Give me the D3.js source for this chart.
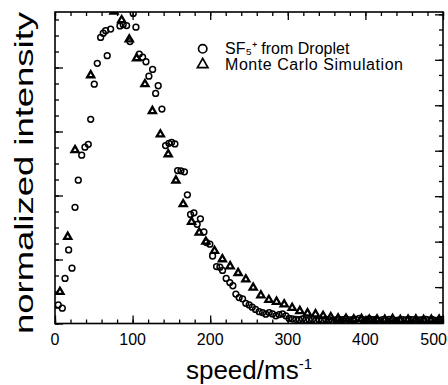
<html>
<head>
<meta charset="utf-8"/>
<script src="https://d3js.org/d3.v7.min.js"></script>
<style>
body { margin:0; background:#fff; }
text { font-family: "Liberation Sans", Arial, Helvetica, sans-serif; fill:#000; }
</style>
</head>
<body>
<script>
var width=448;
var height=385;

// SF5+ from droplet (open circles)
var dropSpeed=[4.2,9.4,12.9,17.6,21.9,25.8,30.0,34.4,38.6,42.9,46.0,50.6,54.5,58.8,62.2,65.3,67.3,71.7,76.0,83.7,87.9,92.3,96.6,100.8,104.3,
108.6,112.9,117.2,121.0,125.8,129.7,133.0,137.8,142.5,146.8,150.3,154.5,158.0,162.3,166.8,170.6,174.7,179.0,183.2,187.4,191.9,195.3,
199.6,203.1,208.2,212.5,215.9,220.6,225.3,229.2,233.1,237.3,241.7,245.9,250.2,254.1,258.4,263.1,267.5,271.7,276.0,280.3,284.6,288.8,
293.2,297.5,301.7,306.0,310.3,314.6,318.9,323.2,327.5,331.8,336.1,340.4,344.7,349.0,353.3,357.6,361.9,366.2,370.5,374.8,379.1,383.4,
387.7,392.0,396.3,400.6,404.9,409.2,413.5,417.8,422.1,426.4,430.7,435.0,439.3,443.6,447.9,452.2,456.5,460.8,465.1,469.4,473.7,478.0,
482.3,486.6,490.9,495.2,499.5];
var dropInt=[0.058,0.048,0.141,0.230,0.173,0.363,0.448,0.526,0.551,0.560,0.638,0.748,0.813,0.894,0.907,0.915,0.837,0.920,0.980,0.930,0.934,0.931,0.881,0.969,0.926,
0.842,0.832,0.818,0.773,0.794,0.719,0.743,0.670,0.556,0.563,0.566,0.561,0.478,0.477,0.474,0.402,0.341,0.346,0.310,0.327,0.286,0.253,
0.248,0.211,0.178,0.176,0.166,0.141,0.128,0.118,0.092,0.081,0.077,0.063,0.058,0.051,0.044,0.037,0.034,0.029,0.034,0.030,0.024,0.028,
0.030,0.024,0.016,0.014,0.013,0.012,0.014,0.011,0.012,0.013,0.010,0.012,0.011,0.013,0.012,0.010,0.011,0.013,0.012,0.014,0.011,0.012,
0.013,0.016,0.012,0.011,0.014,0.012,0.013,0.010,0.012,0.011,0.013,0.012,0.010,0.011,0.012,0.011,0.013,0.012,0.010,0.011,0.012,0.013,
0.011,0.012,0.010,0.012,0.013];

// Monte Carlo simulation (triangles)
var simSpeed=[6.4,16.4,25.8,46.0,76.0,85.9,95.7,105.2,115.9,125.5,135.8,145.9,155.8,165.2,176.0,185.8,194.4,205.6,215.7,225.7,236.0,
245.9,255.4,265.3,275.6,285.5,295.3,305.6,315.5,325.4,335.7,345.5,355.4,364.8,375,385,395,405,415,425,435,445,455,465,475,485,495];
var simInt=[0.099,0.271,0.542,0.776,0.975,0.948,0.888,0.829,0.748,0.664,0.591,0.529,0.447,0.373,0.318,0.284,0.256,0.227,0.201,0.179,0.158,
0.138,0.112,0.088,0.074,0.068,0.060,0.049,0.039,0.032,0.029,0.024,0.020,0.016,0.015,0.013,0.014,0.012,0.013,0.012,0.014,0.011,0.012,
0.013,0.011,0.012,0.012];

var xTickLabels=[0,100,200,300,400,500];
var legendNames=["SF\u2085\u207A from Droplet","Monte Carlo Simulation"];

var svg=d3.select("body").append("svg").attr("width",width).attr("height",height);

var x=d3.scaleLinear().domain([0,500]).range([55,443]);
var y=d3.scaleLinear().domain([0,0.9734]).range([323.5,12]);
var yR=d3.scaleLinear().domain([0,1]).range([287.1,59.8]);

svg.append("clipPath").attr("id","plotclip").append("rect")
	.attr("x",x(0)).attr("y",y(0.9734)).attr("width",x(500)-x(0)).attr("height",y(0)-y(0.9734));

function addAxis(axis,tx,ty){
	var g=svg.append("g").attr("transform","translate("+tx+","+ty+")").call(axis);
	g.select(".domain").remove();
	g.selectAll("line").attr("stroke","#000").attr("stroke-width",1.3);
	return g;
}

var xMinor=d3.range(0,501,20);
var yMinor=d3.range(0,0.97,0.05);
var yMajor=[0,0.2,0.4,0.6,0.8];
var rMinor=d3.range(-0.2,1.21,1/15).filter(function(d){return yR(d)<=323 && yR(d)>=13;});
var rMajor=[-0.2,0,0.2,0.4,0.6,0.8,1,1.2].filter(function(d){return yR(d)<=323 && yR(d)>=13;});

addAxis(d3.axisBottom(x).tickValues(xMinor).tickSize(-4).tickFormat(""),0,y(0));
addAxis(d3.axisBottom(x).tickValues(xTickLabels).tickSize(-8).tickFormat(""),0,y(0));
addAxis(d3.axisTop(x).tickValues(xMinor).tickSize(-4).tickFormat(""),0,y(0.9734));
addAxis(d3.axisTop(x).tickValues(xTickLabels).tickSize(-8).tickFormat(""),0,y(0.9734));
addAxis(d3.axisLeft(y).tickValues(yMinor).tickSize(-4).tickFormat(""),x(0),0);
addAxis(d3.axisLeft(y).tickValues(yMajor).tickSize(-8).tickFormat(""),x(0),0);
addAxis(d3.axisRight(yR).tickValues(rMinor).tickSize(-4).tickFormat(""),x(500),0);
addAxis(d3.axisRight(yR).tickValues(rMajor).tickSize(-8).tickFormat(""),x(500),0);

svg.append("rect")
	.attr("x",x(0)).attr("y",y(0.9734)).attr("width",x(500)-x(0)).attr("height",y(0)-y(0.9734))
	.attr("fill","none").attr("stroke","#000").attr("stroke-width",1.6);

// tick labels
svg.selectAll(".xl").data(xTickLabels).enter().append("text")
	.attr("class","xl")
	.attr("x",function(d,i){return i==xTickLabels.length-1 ? width-1 : x(d);})
	.attr("y",345)
	.attr("text-anchor",function(d,i){return i==xTickLabels.length-1 ? "end" : "middle";})
	.attr("font-size","16px")
	.text(function(d){return d;});

// axis titles
var xt=svg.append("text").attr("x",249).attr("y",379).attr("text-anchor","middle").attr("font-size","26px");
xt.append("tspan").text("speed/ms");
xt.append("tspan").attr("dy",-10).attr("font-size","15px").text("-1");

svg.append("text")
	.attr("transform","translate(33,173) rotate(-90)")
	.attr("text-anchor","middle")
	.attr("font-size","25px")
	.attr("textLength",322)
	.attr("lengthAdjust","spacingAndGlyphs")
	.text("normalized intensity");

var plot=svg.append("g").attr("clip-path","url(#plotclip)");

var tri=d3.symbol().type(d3.symbolTriangle).size(22);

plot.selectAll(".sim").data(simSpeed).enter().append("path")
	.attr("class","sim")
	.attr("d",tri)
	.attr("transform",function(d,i){return "translate("+x(d)+","+y(simInt[i])+")";})
	.attr("fill","#fff").attr("stroke","#000").attr("stroke-width",2.3);

plot.selectAll(".drop").data(dropSpeed).enter().append("circle")
	.attr("class","drop")
	.attr("cx",function(d){return x(d);})
	.attr("cy",function(d,i){return y(dropInt[i]);})
	.attr("r",2.9)
	.attr("fill","none").attr("stroke","#000").attr("stroke-width",1.5);

// legend
var leg=svg.append("g");
leg.append("circle").attr("cx",202.7).attr("cy",48.8).attr("r",4.2)
	.attr("fill","none").attr("stroke","#000").attr("stroke-width",1.7);
leg.append("path").attr("d",d3.symbol().type(d3.symbolTriangle).size(48))
	.attr("transform","translate(202.7,64.5)")
	.attr("fill","none").attr("stroke","#000").attr("stroke-width",1.7);
leg.selectAll(".lt").data(legendNames).enter().append("text")
	.attr("class","lt")
	.attr("x",225)
	.attr("y",function(d,i){return 53.5+i*16.5;})
	.attr("font-size","16px")
	.attr("textLength",function(d,i){return i==0 ? null : 178;})
	.text(function(d){return d;});
</script>
</body>
</html>
